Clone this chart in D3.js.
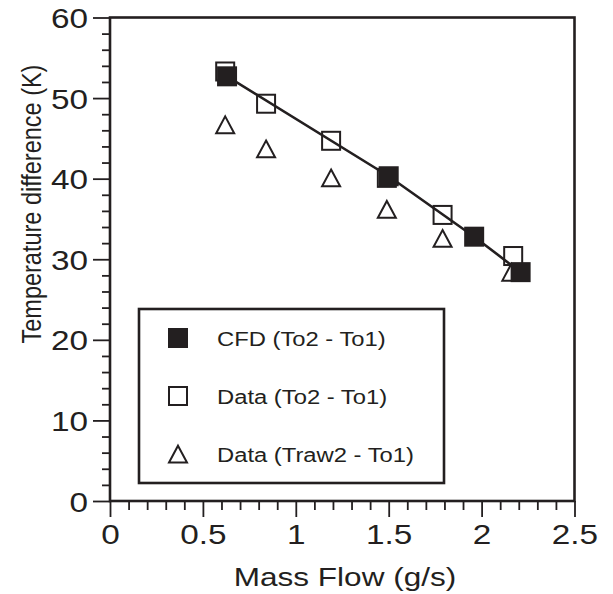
<!DOCTYPE html>
<html>
<head>
<meta charset="utf-8">
<script src="https://cdn.jsdelivr.net/npm/d3@7"></script>
<style>
    body { margin: 0; background: #fff; }
    text { font-family: "Liberation Sans", Arial, Helvetica, sans-serif; fill: #231f20; }
</style>
</head>
<body>
<svg width="613" height="594"></svg>
<script>
// values
var cfdFlow = [0.63, 1.50, 1.96, 2.21];
var cfdDiff = [52.7, 40.3, 32.8, 28.4];
var dataFlow = [0.62, 0.84, 1.19, 1.49, 1.79, 2.17];
var dataDiff = [53.3, 49.3, 44.7, 40.1, 35.5, 30.4];
var rawFlow = [0.62, 0.84, 1.19, 1.49, 1.79, 2.16];
var rawDiff = [46.7, 43.7, 40.1, 36.2, 32.6, 28.4];
var xTicks = [0, 0.5, 1, 1.5, 2, 2.5];
var yTicks = [0, 10, 20, 30, 40, 50, 60];
var legendLabels = ["CFD (To2 - To1)", "Data (To2 - To1)", "Data (Traw2 - To1)"];

var ink = "#231f20";
var stretch = "scale(1.19,1)";   // the figure's lettering is a bit wide

var svg = d3.select("svg"),
    margin = {top: 17.5, left: 110},
    width = 464.5,
    height = 483.5,
    g = svg.append("g").attr("transform", "translate(" + margin.left + "," + margin.top + ")");

var x = d3.scaleLinear().domain([0, 2.5]).range([0, width]);
var y = d3.scaleLinear().domain([0, 60]).range([height, 0]);

function pairs(xs, ys) {
    return xs.map(function (v, i) { return {x: v, y: ys[i]}; });
}

// minor ticks
var xMinor = d3.range(0, 2.51, 0.1).filter(function (v) { return Math.abs(v * 2 - Math.round(v * 2)) > 0.01; });
var yMinor = d3.range(0, 61, 2).filter(function (v) { return v % 10 !== 0; });

g.append("g")
    .attr("transform", "translate(0," + height + ")")
    .call(d3.axisBottom(x).tickValues(xMinor).tickSize(9).tickFormat(""));
g.append("g")
    .call(d3.axisLeft(y).tickValues(yMinor).tickSize(8).tickFormat(""));

var xAxis = g.append("g")
    .attr("transform", "translate(0," + height + ")")
    .call(d3.axisBottom(x).tickValues(xTicks).tickSize(16).tickFormat(d3.format("")));
var yAxis = g.append("g")
    .call(d3.axisLeft(y).tickValues(yTicks).tickSize(17));

g.selectAll(".domain").remove();
g.selectAll(".tick line").attr("stroke", ink).attr("stroke-width", 1.8);

xAxis.selectAll("text")
    .attr("y", 0)
    .attr("dy", null)
    .attr("transform", "translate(0,43) " + stretch)
    .style("font-size", "28px");
yAxis.selectAll("text")
    .attr("x", 0)
    .attr("dy", null)
    .attr("transform", "translate(-22,10) " + stretch)
    .style("font-size", "28px");

// frame
g.append("rect")
    .attr("width", width)
    .attr("height", height)
    .attr("fill", "none")
    .attr("stroke", ink)
    .attr("stroke-width", 2.6);

// axis titles
svg.append("text")
    .attr("transform", "translate(345,586) " + stretch)
    .attr("text-anchor", "middle")
    .style("font-size", "26.5px")
    .text("Mass Flow (g/s)");

svg.append("text")
    .attr("transform", "translate(41,204) " + stretch + " rotate(-90)")
    .attr("text-anchor", "middle")
    .style("font-size", "23.5px")
    .text("Temperature difference (K)");

// CFD line
var line = d3.line()
    .x(function (d) { return x(d.x); })
    .y(function (d) { return y(d.y); });

g.append("path")
    .datum(pairs(cfdFlow, cfdDiff))
    .attr("fill", "none")
    .attr("stroke", ink)
    .attr("stroke-width", 2.6)
    .attr("d", line);

var triPath = "M0,-8.3L9,8.5L-9,8.5Z";

g.selectAll(".raw")
    .data(pairs(rawFlow, rawDiff))
    .enter().append("path")
    .attr("class", "raw")
    .attr("transform", function (d) { return "translate(" + x(d.x) + "," + y(d.y) + ")"; })
    .attr("d", triPath)
    .attr("fill", "none")
    .attr("stroke", ink)
    .attr("stroke-width", 2);

g.selectAll(".data")
    .data(pairs(dataFlow, dataDiff))
    .enter().append("rect")
    .attr("class", "data")
    .attr("x", function (d) { return x(d.x) - 9; })
    .attr("y", function (d) { return y(d.y) - 9; })
    .attr("width", 18)
    .attr("height", 18)
    .attr("fill", "none")
    .attr("stroke", ink)
    .attr("stroke-width", 2);

g.selectAll(".cfd")
    .data(pairs(cfdFlow, cfdDiff))
    .enter().append("rect")
    .attr("class", "cfd")
    .attr("x", function (d) { return x(d.x) - 10; })
    .attr("y", function (d) { return y(d.y) - 10; })
    .attr("width", 20)
    .attr("height", 20)
    .attr("fill", ink);

// legend
var legend = svg.append("g");
legend.append("rect")
    .attr("x", 139)
    .attr("y", 309)
    .attr("width", 305)
    .attr("height", 174)
    .attr("fill", "#fff")
    .attr("stroke", ink)
    .attr("stroke-width", 2.6);

var rows = legend.selectAll(".row")
    .data(legendLabels)
    .enter().append("g")
    .attr("transform", function (d, i) { return "translate(178," + (338 + i * 58) + ")"; });

rows.append("text")
    .attr("transform", "translate(39,7.5) " + stretch)
    .style("font-size", "20px")
    .text(function (d) { return d; });

rows.filter(function (d, i) { return i === 0; })
    .append("rect")
    .attr("x", -10).attr("y", -10).attr("width", 20).attr("height", 20)
    .attr("fill", ink);
rows.filter(function (d, i) { return i === 1; })
    .append("rect")
    .attr("x", -9).attr("y", -9).attr("width", 18).attr("height", 18)
    .attr("fill", "none").attr("stroke", ink).attr("stroke-width", 2);
rows.filter(function (d, i) { return i === 2; })
    .append("path")
    .attr("d", triPath)
    .attr("fill", "none").attr("stroke", ink).attr("stroke-width", 2);
</script>
</body>
</html>
